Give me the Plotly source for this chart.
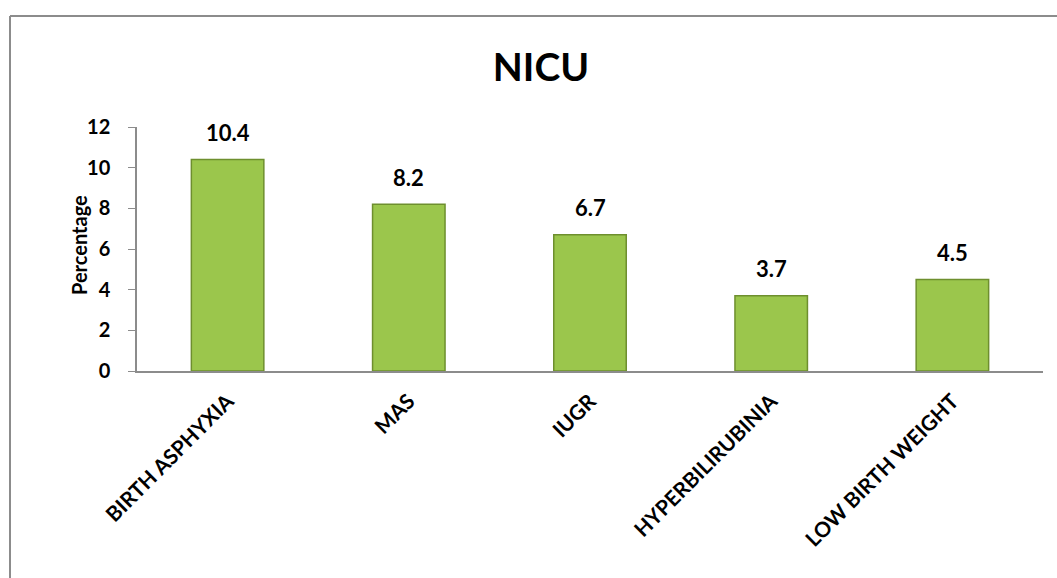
import plotly.graph_objects as go

categories = ["BIRTH ASPHYXIA", "MAS", "IUGR", "HYPERBILIRUBINIA", "LOW BIRTH WEIGHT"]
values = [10.4, 8.2, 6.7, 3.7, 4.5]
y_ticks = [0, 2, 4, 6, 8, 10, 12]

W, H = 1057, 578
L, R, T, B = 137, 14, 127, 207
pw, ph = W - L - R, H - T - B
FONT = "Lato"
BOLD = dict(family=FONT, color="black", weight="bold")

fig = go.Figure()
fig.add_trace(go.Bar(
    x=categories, y=values,
    marker=dict(color="#9BC64C", line=dict(color="#6E8F2E", width=1.5)),
    cliponaxis=False, width=0.4, hoverinfo="x+y",
))

# value labels floating above each bar
for c, v in zip(categories, values):
    fig.add_annotation(x=c, y=v, text=f"{v:.1f}", showarrow=False,
                       yanchor="middle", yshift=27,
                       font=dict(BOLD, size=22))


def px_x(x):
    return (x - L) / pw


def px_y(y):
    return (H - B - y) / ph


# y-axis title placed beside the tick labels
fig.add_annotation(xref="paper", yref="paper", x=px_x(79), y=px_y(245),
                   text="Percentage", textangle=-90, showarrow=False,
                   xanchor="center", yanchor="middle",
                   font=dict(BOLD, size=20))

# outer chart frame (top and left edges)
fig.add_shape(type="line", xref="paper", yref="paper",
              x0=px_x(10), x1=px_x(1070), y0=px_y(16), y1=px_y(16),
              line=dict(color="#8c8c8c", width=2))
fig.add_shape(type="line", xref="paper", yref="paper",
              x0=px_x(10), x1=px_x(10), y0=px_y(16), y1=px_y(590),
              line=dict(color="#8c8c8c", width=2))

fig.update_layout(
    width=W, height=H,
    margin=dict(l=L, r=R, t=T, b=B),
    paper_bgcolor="white", plot_bgcolor="white",
    showlegend=False,
    title=dict(text="NICU", x=541 / W, xanchor="center",
               y=1 - 67 / H, yanchor="middle",
               font=dict(BOLD, size=39)),
    font=dict(family=FONT, color="black"),
    xaxis=dict(tickangle=-45, showline=True, linecolor="#8c8c8c", linewidth=1.5,
               ticks="", ticklabelstandoff=8,
               tickfont=dict(BOLD, size=21), showgrid=False),
    yaxis=dict(range=[0, 12], tickvals=y_ticks, showline=True,
               linecolor="#8c8c8c", linewidth=1.5, ticks="outside", ticklen=7,
               tickcolor="#8c8c8c", showgrid=False, zeroline=False,
               ticklabelstandoff=14,
               tickfont=dict(BOLD, size=20)),
)

fig.write_html("out.html")
